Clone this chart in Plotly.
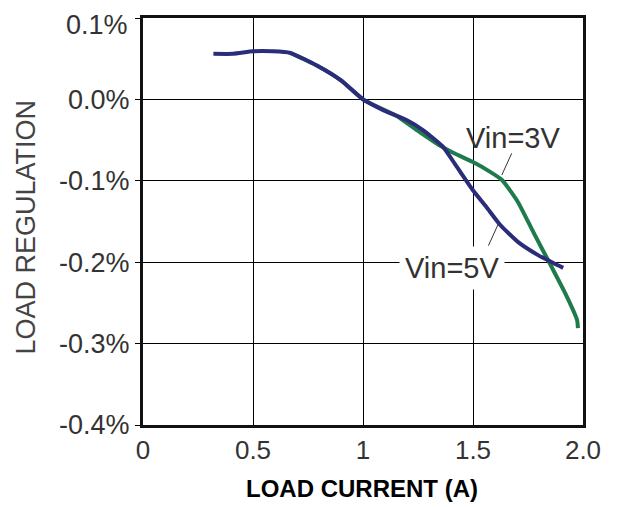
import plotly.graph_objects as go

# Vin=5V (navy)
x_5v = [0.32, 0.41, 0.50, 0.59, 0.67, 0.79, 0.90, 1.00, 1.094, 1.20, 1.274, 1.363, 1.417, 1.498, 1.56, 1.623, 1.704, 1.794, 1.865, 1.91]
y_5v = [0.056, 0.056, 0.059, 0.059, 0.057, 0.0416, 0.0233, 0.0, -0.0135, -0.0257, -0.038, -0.058, -0.079, -0.111, -0.132, -0.154, -0.175, -0.191, -0.201, -0.207]

# Vin=3V (green)
x_3v = [0.67, 0.79, 0.90, 1.00, 1.148, 1.256, 1.345, 1.417, 1.498, 1.578, 1.632, 1.704, 1.776, 1.848, 1.919, 1.973, 1.977]
y_3v = [0.057, 0.0416, 0.0233, 0.0, -0.0196, -0.040, -0.056, -0.0665, -0.0767, -0.089, -0.099, -0.126, -0.164, -0.201, -0.238, -0.271, -0.281]

x_tickvals = [0, 0.5, 1, 1.5, 2.0]
x_ticktext = ["0", "0.5", "1", "1.5", "2.0"]
y_tickvals = [0.1, 0.0, -0.1, -0.2, -0.3, -0.4]
y_ticktext = ["0.1%", "0.0%", "-0.1%", "-0.2%", "-0.3%", "-0.4%"]

GREEN = "#1f7a4c"
NAVY = "#2b2c7a"
TXT = "#333333"
FONT = "Liberation Sans, Arial, sans-serif"

fig = go.Figure()
fig.add_trace(go.Scatter(x=x_3v, y=y_3v, mode="lines", name="Vin=3V",
                         line=dict(color=GREEN, width=4, shape="spline", smoothing=0.5)))
fig.add_trace(go.Scatter(x=x_5v, y=y_5v, mode="lines", name="Vin=5V",
                         line=dict(color=NAVY, width=4, shape="spline", smoothing=0.5)))

fig.update_layout(
    width=610, height=499, autosize=False,
    margin=dict(l=135, r=35, t=10, b=82),
    paper_bgcolor="white", plot_bgcolor="white",
    showlegend=False,
    font=dict(family=FONT, color=TXT, size=26),
)
fig.update_xaxes(range=[0, 2.0], tickvals=x_tickvals, ticktext=x_ticktext,
                 showgrid=True, gridcolor="black", gridwidth=1,
                 showline=True, linecolor="#111111", linewidth=3, mirror=True,
                 ticks="", zeroline=False, ticklabeloverflow="allow", automargin=False,
                 tickfont=dict(size=26, color=TXT))
# the top tick label is placed as an annotation so that it stays inside the page
fig.update_yaxes(range=[-0.4, 0.1], tickvals=y_tickvals, ticktext=[""] + y_ticktext[1:],
                 showgrid=True, gridcolor="black", gridwidth=1,
                 showline=True, linecolor="#111111", linewidth=3, mirror=True,
                 ticks="outside", ticklen=5, tickcolor="black", tickwidth=1,
                 zeroline=False, ticklabeloverflow="allow", automargin=False,
                 tickfont=dict(size=27, color=TXT))

annotations = [
    dict(text=y_ticktext[0], xref="paper", yref="paper", x=-0.0295, y=1.0246,
         showarrow=False, xanchor="right", yanchor="top",
         font=dict(size=27, color=TXT, family=FONT)),
    dict(text="LOAD REGULATION", xref="paper", yref="paper", x=-0.265, y=0.486,
         textangle=-90, showarrow=False, xanchor="center", yanchor="middle",
         font=dict(size=27, color="#444444", family=FONT)),
    dict(text="<b>LOAD CURRENT (A)</b>", xref="paper", yref="paper", x=0.498, y=-0.157,
         showarrow=False, xanchor="center", yanchor="middle",
         font=dict(size=24, color="black", family=FONT)),
    dict(text="Vin=3V", x=1.68, y=-0.0478, showarrow=False,
         xanchor="center", yanchor="middle", font=dict(size=29, color=TXT, family=FONT)),
    dict(text="Vin=5V", x=1.403, y=-0.2071, showarrow=False,
         xanchor="center", yanchor="middle", bgcolor="white", borderpad=5,
         font=dict(size=29, color=TXT, family=FONT)),
]
fig.update_layout(annotations=annotations)

fig.add_shape(type="line", x0=1.676, y0=-0.0662, x1=1.631, y1=-0.0929,
              line=dict(color="#333333", width=1))
fig.add_shape(type="line", x0=1.615, y0=-0.153, x1=1.570, y1=-0.1797,
              line=dict(color="#333333", width=1))

fig.write_html("out.html")
